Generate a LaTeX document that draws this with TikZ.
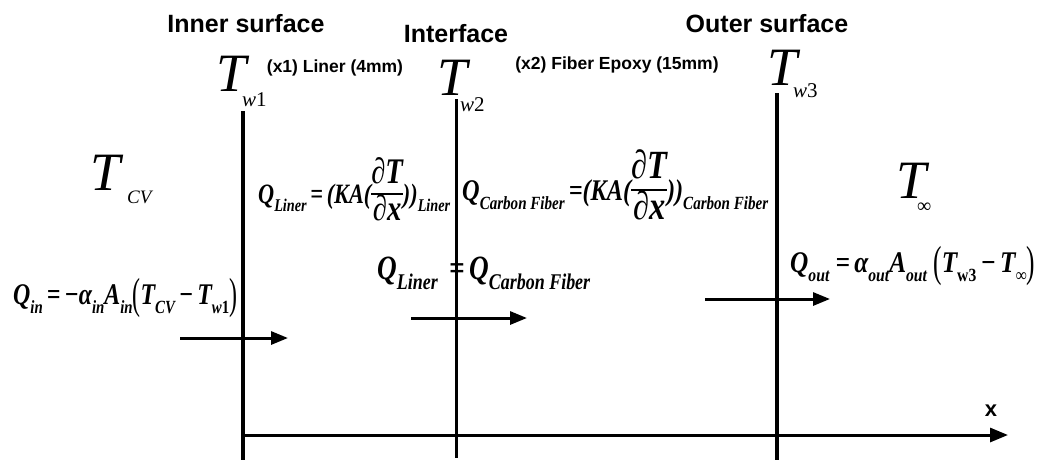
\documentclass[tikz,border=0pt]{standalone}
\usepackage{fix-cm}
\usepackage{fontspec}
\setmainfont{Liberation Serif}
\setsansfont{Liberation Sans}
\usepackage{graphicx}
\usetikzlibrary{arrows.meta}
\newcommand\sbs[2][0.62]{\raisebox{-0.3em}{\scalebox{#1}{#2}}}
\newcommand\frc[3]{{\fontsize{#1}{#1}\selectfont\setlength\arrayrulewidth{1.2pt}\setlength\tabcolsep{0pt}\renewcommand\arraystretch{0.95}\begin{tabular}{c}#2\\\hline #3\end{tabular}}}
\newcommand\bp[1]{\raisebox{-0.14em}{\scalebox{1}[1.45]{\normalfont #1}}}
\tikzset{
  wall/.style={line width=4.5pt},
  iface/.style={line width=3pt},
  flow/.style={line width=3pt,-{Triangle[length=17pt,width=13pt]}},
  axisline/.style={line width=3pt,-{Triangle[length=18pt,width=14pt]}},
  head/.style={font=\fontsize{25}{28}\selectfont\sffamily\bfseries,inner sep=0pt,anchor=base},
  layer/.style={font=\fontsize{17.5}{20}\selectfont\sffamily\bfseries,inner sep=0pt,anchor=base},
  bigT/.style={font=\fontsize{54}{60}\selectfont\itshape,inner sep=0pt,anchor=base west},
  subT/.style={font=\fontsize{21}{24}\selectfont\itshape,inner sep=0pt,anchor=base west},
  eq/.style={font=\bfseries\itshape,inner sep=0pt,anchor=base west},
}
\begin{document}
\begin{tikzpicture}[x=1pt,y=-1pt]
\useasboundingbox (0,0) rectangle (1040,460);
% coordinates
\coordinate (w1t) at (243,111);
\coordinate (w1b) at (243,460);
\coordinate (w2t) at (456,99);
\coordinate (w2b) at (456,458);
\coordinate (w3t) at (777,93);
\coordinate (w3b) at (777,460);
\coordinate (ax0) at (243,435);
\coordinate (ax1) at (1008,435);
\coordinate (a1s) at (180,338);
\coordinate (a1e) at (288,338);
\coordinate (a2s) at (411,318);
\coordinate (a2e) at (527,318);
\coordinate (a3s) at (705,299);
\coordinate (a3e) at (830,299);
% walls and axis
\draw[wall] (w1t) -- (w1b);
\draw[iface] (w2t) -- (w2b);
\draw[wall] (w3t) -- (w3b);
\draw[axisline] (ax0) -- (ax1);
\draw[flow] (a1s) -- (a1e);
\draw[flow] (a2s) -- (a2e);
\draw[flow] (a3s) -- (a3e);
% headings
\node[head] (hin) at (246,33) {Inner surface};
\node[head] (hif) at (456,42) {Interface};
\node[head] (hout) at (767,33) {Outer surface};
\node[layer] (l1) at (335,72) {(x1) Liner (4mm)};
\node[layer] (l2) at (617,69) {(x2) Fiber Epoxy (15mm)};
\node[font=\fontsize{22}{24}\selectfont\sffamily\bfseries,inner sep=0pt,anchor=base] (xl) at (991,416) {x};
% temperatures
\node[bigT] (tw1) at (216,91) {T};
\node[subT] (sw1) at (242,106) {w\upshape 1};
\node[bigT] (tw2) at (437,95) {T};
\node[subT] (sw2) at (460,111) {w\upshape 2};
\node[bigT] (tw3) at (767,85) {T};
\node[subT] (sw3) at (793,97) {w\upshape 3};
\node[bigT] (tcv) at (90,190) {T};
\node[subT,font=\fontsize{19}{21}\selectfont\itshape] (scv) at (127,203) {CV};
\node[bigT] (tinf) at (896,198) {T};
\node[subT,font=\fontsize{20}{22}\selectfont] (sinf) at (917,212) {∞};
% equations
\node[eq] (e1) at (258,203) {\resizebox{192pt}{\height}{\fontsize{28}{32}\selectfont Q\sbs[0.64]{Liner}\,=\,(KA(\frc{36}{∂T}{∂x}))\sbs[0.64]{Liner}}};
\node[eq] (e2) at (462,200) {\resizebox{306pt}{\height}{\fontsize{30}{34}\selectfont Q\sbs{Carbon Fiber}\,=(KA(\frc{40}{∂T}{∂x}))\sbs{Carbon Fiber}}};
\node[eq] (e3) at (13,304) {\resizebox{224pt}{\height}{\fontsize{30}{34}\selectfont Q\sbs{in}\,=\,−α\sbs{in}A\sbs{in}\bp{(}T\sbs{CV}\,−\,T\sbs{w{\upshape 1}}\bp{)}}};
\node[eq] (e4) at (377,279) {\resizebox{213pt}{\height}{\fontsize{34}{38}\selectfont Q\sbs[0.66]{Liner}\ \,=\,Q\sbs[0.66]{Carbon Fiber}}};
\node[eq] (e5) at (790,272) {\resizebox{245pt}{\height}{\fontsize{30}{34}\selectfont Q\sbs{out}\ =\,α\sbs{out}A\sbs{out}\ \bp{(}T\sbs{\upshape w3}\,−\,T\sbs{∞}\bp{)}}};
\end{tikzpicture}
\end{document}
